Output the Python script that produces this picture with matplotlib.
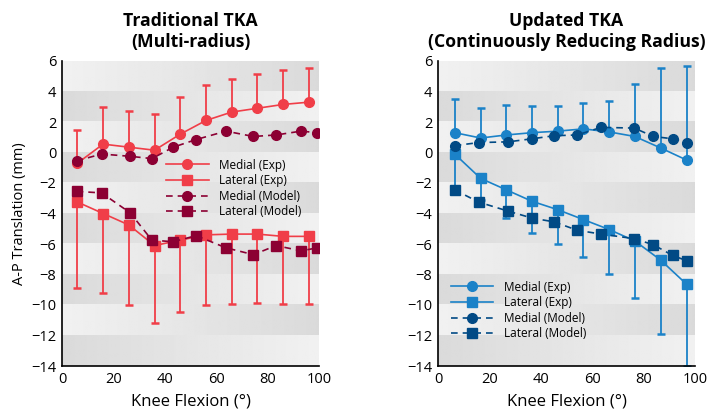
import numpy as np
import matplotlib.pyplot as plt

plt.rcParams['font.family'] = ['Open Sans', 'DejaVu Sans']

# ---- Traditional TKA (left) ----
trad_exp_x = [6, 16, 26, 36, 46, 56, 66, 76, 86, 96]
trad_med_exp = [-0.7, 0.55, 0.35, 0.15, 1.2, 2.1, 2.65, 2.9, 3.15, 3.3]
trad_med_exp_top = [1.45, 3.0, 2.75, 2.55, 3.65, 4.4, 4.85, 5.15, 5.4, 5.55]
trad_lat_exp = [-3.25, -4.0, -4.75, -6.1, -5.75, -5.4, -5.35, -5.35, -5.5, -5.5]
trad_lat_exp_bot = [-8.9, -9.2, -10.0, -11.2, -10.45, -10.0, -9.95, -9.9, -9.95, -9.95]

trad_mod_x = [5.7, 15.4, 26.5, 35, 43.3, 52.2, 63.8, 74.5, 83.3, 93, 99.4]
trad_med_mod = [-0.55, -0.1, -0.25, -0.4, 0.35, 0.85, 1.4, 1.05, 1.15, 1.4, 1.3]
trad_lat_mod = [-2.55, -2.65, -3.95, -5.75, -5.85, -5.45, -6.25, -6.7, -6.1, -6.45, -6.25]

# ---- Updated TKA (right) ----
upd_exp_x = [6.5, 16.6, 26.6, 36.6, 46.6, 56.6, 66.6, 76.6, 86.6, 96.8]
upd_med_exp = [1.3, 0.95, 1.15, 1.3, 1.4, 1.55, 1.35, 1.05, 0.3, -0.5]
upd_med_exp_top = [3.5, 2.9, 3.1, 3.05, 3.05, 3.25, 3.4, 4.5, 5.55, 5.7]
upd_lat_exp = [-0.1, -1.7, -2.45, -3.2, -3.75, -4.4, -5.05, -5.8, -7.05, -8.65]
upd_lat_exp_bot = [-2.2, -3.1, -4.3, -5.25, -6.0, -6.85, -7.95, -9.55, -11.9, -14.0]

upd_mod_x = [6.5, 15.8, 27.4, 36.6, 45.2, 54.2, 63.5, 76.4, 83.8, 91.3, 96.8]
upd_med_mod = [0.45, 0.65, 0.7, 0.9, 1.1, 1.15, 1.65, 1.6, 1.05, 0.9, 0.65]
upd_lat_mod = [-2.45, -3.25, -3.85, -4.3, -4.55, -5.1, -5.35, -5.65, -6.05, -6.75, -7.1]

labels = ["Medial (Exp)", "Lateral (Exp)", "Medial (Model)", "Lateral (Model)"]
yticks = list(range(-14, 7, 2))


def background(ax):
    grad = np.linspace(0, 1, 200)
    for i, top in enumerate(range(6, -14, -2)):
        if i % 2 == 0:
            vals = 0.945 - 0.09 * grad
        else:
            vals = 0.855 + 0.09 * grad
        ax.imshow(vals[None, :], cmap="gray", vmin=0, vmax=1, aspect="auto",
                  extent=[0, 100, top - 2, top], zorder=0, interpolation="bilinear")


def panel(ax, ex, med, med_top, lat, lat_bot, mx, mmed, mlat, c_exp, c_mod):
    background(ax)
    med = np.array(med)
    lat = np.array(lat)
    up = np.array(med_top) - med
    dn = lat - np.array(lat_bot)
    ax.errorbar(ex, med, yerr=[np.zeros_like(up), up], fmt="none", ecolor=c_exp,
                elinewidth=1.3, capsize=3, capthick=1.8, zorder=2)
    ax.errorbar(ex, lat, yerr=[dn, np.zeros_like(dn)], fmt="none", ecolor=c_exp,
                elinewidth=1.3, capsize=3, capthick=1.8, zorder=2)
    h1, = ax.plot(ex, med, "-o", color=c_exp, lw=1.2, ms=7, zorder=3)
    h2, = ax.plot(ex, lat, "-s", color=c_exp, lw=1.2, ms=7, zorder=3)
    h3, = ax.plot(mx, mmed, "--o", color=c_mod, lw=1.2, ms=7, dashes=(4, 3), zorder=4)
    h4, = ax.plot(mx, mlat, "--s", color=c_mod, lw=1.2, ms=7, dashes=(4, 3), zorder=4)
    ax.set_xlim(0, 100)
    ax.set_ylim(-14, 6)
    ax.set_xticks(range(0, 101, 20))
    ax.set_yticks(yticks)
    ax.tick_params(length=0, labelsize=10.5, pad=4)
    for s in ["top", "right"]:
        ax.spines[s].set_visible(False)
    for s in ["left", "bottom"]:
        ax.spines[s].set_linewidth(1.2)
        ax.spines[s].set_zorder(5)
    ax.set_xlabel("Knee Flexion (°)", fontsize=12, labelpad=5)
    return [h1, h2, h3, h4]


fig = plt.figure(figsize=(7.22, 4.16), dpi=100)
ax1 = fig.add_axes([62 / 722, 50 / 416, 257 / 722, 305 / 416])
ax2 = fig.add_axes([438 / 722, 50 / 416, 257 / 722, 305 / 416])

hs = panel(ax1, trad_exp_x, trad_med_exp, trad_med_exp_top, trad_lat_exp, trad_lat_exp_bot,
           trad_mod_x, trad_med_mod, trad_lat_mod, "#f03e48", "#8c0033")
ax1.set_ylabel("A-P Translation (mm)", fontsize=10.5, labelpad=3)
ax1.set_title("Traditional TKA\n(Multi-radius)", fontsize=12.7, fontweight="bold", pad=10)
ax1.legend(hs, labels, loc="upper left", bbox_to_anchor=(0.405, 0.68), frameon=False,
           fontsize=8.5, handlelength=3.6, handletextpad=0.9, labelspacing=0.22,
           borderpad=0, borderaxespad=0)

hs = panel(ax2, upd_exp_x, upd_med_exp, upd_med_exp_top, upd_lat_exp, upd_lat_exp_bot,
           upd_mod_x, upd_med_mod, upd_lat_mod, "#1b82c8", "#014a85")
ax2.set_title("Updated TKA\n(Continuously Reducing Radius)", fontsize=12.7, fontweight="bold", pad=10)
ax2.legend(hs, labels, loc="upper left", bbox_to_anchor=(0.05, 0.28), frameon=False,
           fontsize=8.5, handlelength=3.6, handletextpad=0.9, labelspacing=0.22,
           borderpad=0, borderaxespad=0)

fig.savefig("out.png", dpi=100)
